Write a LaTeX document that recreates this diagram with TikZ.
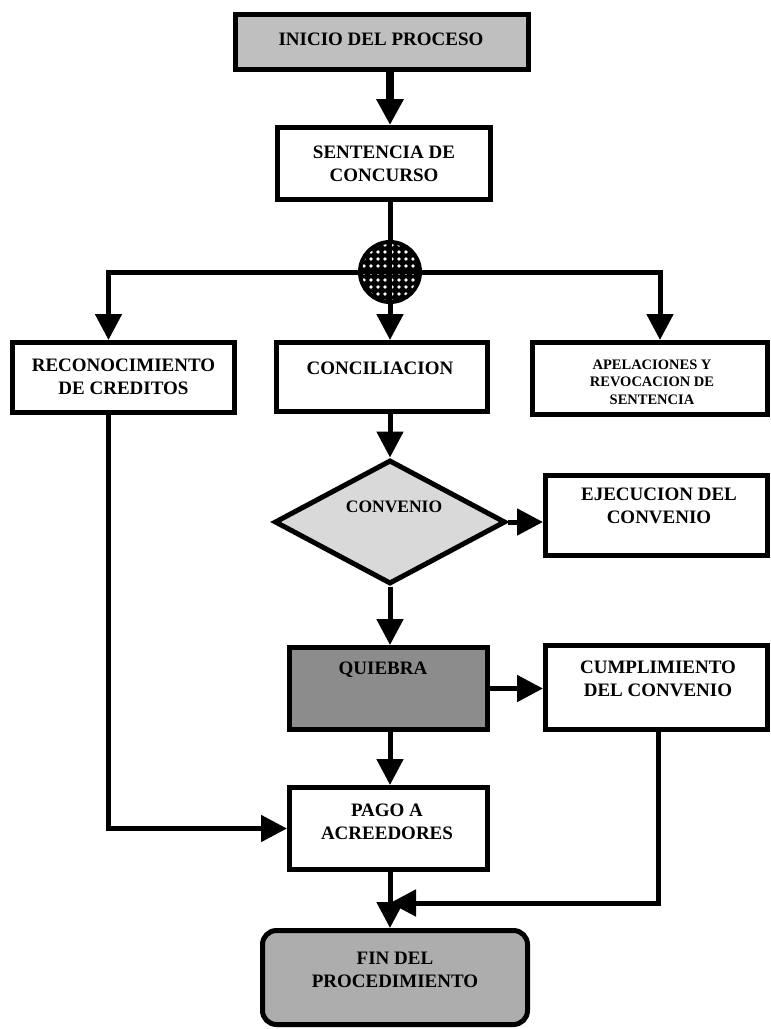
\documentclass[tikz,border=0pt]{standalone}
\usepackage{fontspec}
\setmainfont{Liberation Serif}
\usetikzlibrary{arrows.meta,shapes.geometric,patterns.meta}
\begin{document}
\begin{tikzpicture}[x=1pt,y=-1pt,
  box/.style={draw, line width=5pt, rectangle, inner sep=0pt},
  lbl/.style={font=\fontsize{19}{23}\selectfont\bfseries, align=center, inner sep=0pt},
  small/.style={font=\fontsize{14.5}{17.5}\selectfont\bfseries, align=center, inner sep=0pt},
  ln/.style={line width=5pt},
  arr/.style={ln, -{Triangle[length=26pt,width=26pt]}}]
\useasboundingbox (0,0) rectangle (771,1029);

% boxes
\node[box, fill=black!25, minimum width=293pt, minimum height=55pt] (inicio) at (382,42) {};
\node[box, minimum width=213pt, minimum height=72pt] (sent) at (384,163.5) {};
\node[box, minimum width=222pt, minimum height=70pt] (rec) at (123.5,377.5) {};
\node[box, minimum width=211pt, minimum height=69pt] (conc) at (382,377) {};
\node[box, minimum width=235pt, minimum height=72pt] (apel) at (650,378.5) {};
\node[diamond, draw, line width=5pt, fill=black!15, minimum width=231pt, minimum height=124pt, inner sep=0pt] (conv) at (390,522) {};
\node[box, minimum width=222pt, minimum height=80pt] (ejec) at (656.5,515.5) {};
\node[box, fill=black!45, minimum width=198pt, minimum height=82pt] (quie) at (388.5,688.5) {};
\node[box, minimum width=222pt, minimum height=84pt] (cump) at (656.5,687.5) {};
\node[box, minimum width=198pt, minimum height=82pt] (pago) at (388.5,828.5) {};
\node[box, fill=black!32, rounded corners=14pt, minimum width=265pt, minimum height=94pt] (fin) at (395,977.5) {};

% texts
\node[lbl] (tinicio) at (381,39) {INICIO DEL PROCESO};
\node[lbl] (tsent) at (384,164) {SENTENCIA DE\\CONCURSO};
\node[lbl] (trec) at (123.5,377) {RECONOCIMIENTO\\DE CREDITOS};
\node[lbl] (tconc) at (380,368) {CONCILIACION};
\node[small] (tapel) at (652,382) {APELACIONES Y\\REVOCACION DE\\SENTENCIA};
\node[lbl, font=\fontsize{17.5}{21}\selectfont\bfseries] (tconv) at (394,507) {CONVENIO};
\node[lbl] (tejec) at (659,506) {EJECUCION DEL\\CONVENIO};
\node[lbl] (tquie) at (383,670) {QUIEBRA};
\node[lbl] (tcump) at (658,679) {CUMPLIMIENTO\\DEL CONVENIO};
\node[lbl] (tpago) at (387,822) {PAGO A\\ACREEDORES};
\node[lbl] (tfin) at (395,970) {FIN DEL\\PROCEDIMIENTO};

% junction circle
\node[circle, draw, line width=4pt, minimum size=60pt, inner sep=0pt,
  preaction={fill=black}, pattern={Dots[distance=7pt,radius=1.8pt]}, pattern color=white] (circ) at (390,272) {};
\draw[line width=3pt] (circ.north) -- (circ.south);
\draw[line width=3pt] (circ.west) -- (circ.east);

% connectors
\draw[arr, line width=8pt] (inicio.south -| circ) -- (sent.north -| circ);
\draw[ln] (sent.south -| circ) -- (circ.north);
\draw[arr] (circ.west) -| ([xshift=-15pt]rec.north);
\draw[arr] (circ.east) -| ([xshift=10pt]apel.north);
\draw[arr] (circ.south) -- (conc.north -| circ);
\draw[arr] (conc.south -| conv) -- (conv.north);
\draw[arr] (conv.east) -- (conv.east -| ejec.west);
\draw[arr] (conv.south) -- (conv.south |- quie.north);
\draw[arr] (quie.east) -- (quie.east -| cump.west);
\draw[arr] (quie.south -| conv) -- (pago.north -| conv);
\draw[arr] ([xshift=-15pt]rec.south) |- (pago.west);
\draw[arr] (pago.south -| conv) -- (fin.north -| conv);
\coordinate (join) at (390,903);
\draw[arr] ([xshift=1.5pt]cump.south) |- (join);
\end{tikzpicture}
\end{document}
